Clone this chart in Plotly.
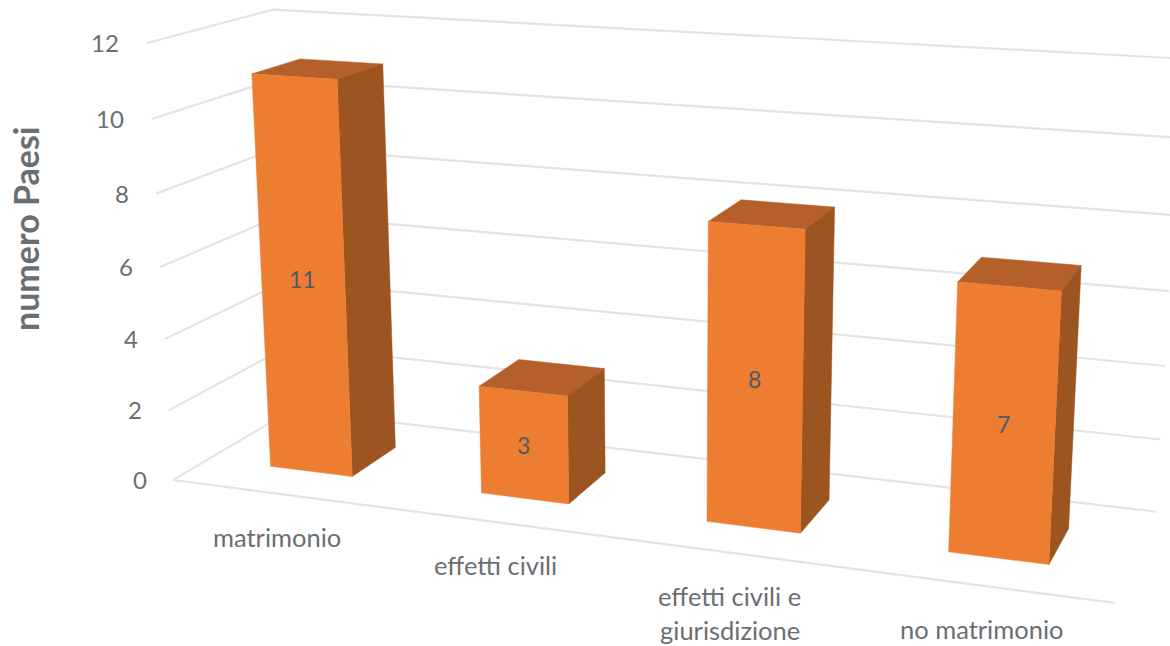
import plotly.graph_objects as go

categories = ["matrimonio", "effetti civili", "effetti civili e<br>giurisdizione", "no matrimonio"]
values = [11, 3, 8, 7]
z_ticks = [0, 2, 4, 6, 8, 10, 12]
axis_title = "numero Paesi"

FRONT, TOP, SIDE = "#ED7D31", "#B5602A", "#9C5420"
GRID, TEXT = "#E2E4E6", "#6B6E70"
BAR_W, Y0, Y1 = 0.395, 0.29, 0.69
FONT = "Lato"
X_MAX, Z_MAX = 4.0, 12.0

# Pinhole projection of the chart's 3-D box (categories, depth, value) on to the paper:
# origin and the three vanishing points, with their perspective weights.
ORIGIN = (173.0, 480.0)
VP_X, W_X = (-6041.0, -331.0), -0.1316
VP_Y, W_Y = (1540.0, -326.0), 0.0945
VP_Z, W_Z = (671.0, 8859.0), -0.04957


def project(x, y, z):
    a, b, c = W_X * x / X_MAX, W_Y * y, W_Z * z / Z_MAX
    d = 1 + a + b + c
    return ((ORIGIN[0] + a * VP_X[0] + b * VP_Y[0] + c * VP_Z[0]) / d,
            (ORIGIN[1] + a * VP_X[1] + b * VP_Y[1] + c * VP_Z[1]) / d)


def polyline(points):
    pts = [project(*p) for p in points]
    return [p[0] for p in pts], [p[1] for p in pts]


fig = go.Figure()


def add_line(points):
    xs, ys = polyline(points)
    fig.add_trace(go.Scatter(x=xs, y=ys, mode="lines", line=dict(color=GRID, width=2.2),
                             hoverinfo="skip", showlegend=False))


def add_face(points, color):
    xs, ys = polyline(points + points[:1])
    fig.add_trace(go.Scatter(x=xs, y=ys, mode="lines", fill="toself", fillcolor=color,
                             line=dict(color=color, width=0.5), hoverinfo="skip", showlegend=False))


for t in z_ticks:
    add_line([(0, 0, t), (0, 1, t), (X_MAX, 1, t)])
add_line([(0, 0, 0), (X_MAX, 0, 0)])

for i, v in enumerate(values):
    x0, x1 = i + 0.5 - BAR_W / 2, i + 0.5 + BAR_W / 2
    add_face([(x0, Y0, v), (x1, Y0, v), (x1, Y1, v), (x0, Y1, v)], TOP)
    add_face([(x1, Y0, 0), (x1, Y1, 0), (x1, Y1, v), (x1, Y0, v)], SIDE)
    add_face([(x0, Y0, 0), (x1, Y0, 0), (x1, Y0, v), (x0, Y0, v)], FRONT)

annotations = []
for i, v in enumerate(values):
    u, w = project(i + 0.5, Y0, v / 2)
    annotations.append(dict(x=u, y=w, text=str(v), showarrow=False,
                            font=dict(family=FONT, size=23, color="#4F5B66")))
for t in z_ticks:
    u, w = project(-0.1, -0.03, t)
    annotations.append(dict(x=u, y=w, text=str(t), showarrow=False, xanchor="right",
                            font=dict(family=FONT, size=24, color=TEXT)))
for i, label in enumerate(categories):
    u, w = project(i + 0.5, 0, 0)
    for k, line in enumerate(label.split("<br>")):
        annotations.append(dict(x=u, y=w, text=line, showarrow=False, yshift=-43 - 34 * k,
                                font=dict(family=FONT, size=25.5, color=TEXT)))
annotations.append(dict(text="<b>%s</b>" % axis_title, x=25, y=229, showarrow=False, textangle=-90,
                        font=dict(family=FONT, size=34, color=TEXT)))

fig.update_layout(
    width=1170, height=646, margin=dict(l=0, r=0, t=0, b=0), paper_bgcolor="white", plot_bgcolor="white",
    showlegend=False,
    xaxis=dict(range=[0, 1170], visible=False, fixedrange=True),
    yaxis=dict(range=[646, 0], visible=False, fixedrange=True),
    annotations=annotations,
)
fig.write_html("out.html", config=dict(displayModeBar=False), post_script="document.body.style.margin='0';")
